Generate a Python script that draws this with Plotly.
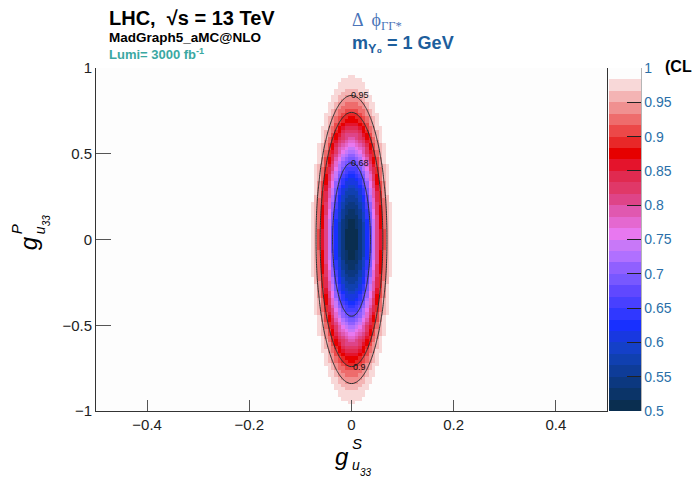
import math
import numpy as np
import plotly.graph_objects as go
from statistics import NormalDist

# ---- scan grid (bin counts and ranges) ----
gS_range = [-0.5, 0.5]
gP_range = [-1.0, 1.0]
n_bins_gS = 150
n_bins_gP = 100

# ---- confidence-level model: CL = Phi(q), q = (gS/aS)^2 + (gP/aP)^2 ----
ellipse_aS = 0.054      # width scale along g^S
ellipse_aP = 0.655      # width scale along g^P
contour_levels = [0.68, 0.9, 0.95]
contour_label_text = ["0.68", "0.9", "0.95"]
contour_label_side = [1, -1, 1]   # label at top (+1) or bottom (-1) of the contour

# ---- axis / colour-bar ticks ----
x_ticks = [-0.4, -0.2, 0.0, 0.2, 0.4]
x_ticktext = ["\u22120.4", "\u22120.2", "0", "0.2", "0.4"]
y_ticks = [-1, -0.5, 0, 0.5, 1]
y_ticktext = ["\u22121", "\u22120.5", "0", "0.5", "1"]
cb_ticks = [0.5, 0.55, 0.6, 0.65, 0.7, 0.75, 0.8, 0.85, 0.9, 0.95, 1.0]
cb_ticktext = ["0.5", "0.55", "0.6", "0.65", "0.7", "0.75", "0.8", "0.85", "0.9", "0.95", "1"]

# 30-step palette from CL = 0.5 (bottom) to CL = 1 (top)
palette = [
    "#0a2e50", "#0b3468", "#0c3880", "#0e3c98", "#1040b0", "#1440c8",
    "#1838e0", "#1830ff", "#3038ff", "#4840ff", "#6048ff", "#7858ff",
    "#9060ff", "#b070ff", "#c878f8", "#e878f0", "#e468d0", "#e058b0",
    "#de4488", "#e03868", "#e02a50", "#e4142c", "#e60000", "#e82828",
    "#ec4848", "#ee6c6c", "#f09090", "#f4b4b4", "#f8d8d8", "#fdfdfd",
]

# ---- build the binned CL map ----
dx = (gS_range[1] - gS_range[0]) / n_bins_gS
dy = (gP_range[1] - gP_range[0]) / n_bins_gP
gS = gS_range[0] + dx * (np.arange(n_bins_gS) + 0.5)
gP = gP_range[0] + dy * (np.arange(n_bins_gP) + 0.5)
GS, GP = np.meshgrid(gS, gP)
q = (GS / ellipse_aS) ** 2 + (GP / ellipse_aP) ** 2
erf_v = np.vectorize(math.erf)
CL = 0.5 * (1.0 + erf_v(q / math.sqrt(2.0)))

# discrete colour scale
n = len(palette)
colorscale = []
for i, c in enumerate(palette):
    colorscale.append([i / n, c])
    colorscale.append([(i + 1) / n, c])

# ---- pixel geometry of the frame ----
W, H = 698, 478
L, R, T, B = 96, 89, 68, 67
PW, PH = W - L - R, H - T - B


def px(xpix):
    return (xpix - L) / PW


def py(ypix):
    return (H - B - ypix) / PH


fig = go.Figure()

fig.add_trace(go.Heatmap(
    x=gS, y=gP, z=CL, zmin=0.5, zmax=1.0,
    colorscale=colorscale, zsmooth=False, hoverinfo="skip",
    colorbar=dict(
        x=px(611), xanchor="left", xref="paper", xpad=0, ypad=0,
        y=0.5, yanchor="middle", len=1, lenmode="fraction",
        thickness=32, thicknessmode="pixels",
        tickmode="array", tickvals=cb_ticks, ticktext=cb_ticktext,
        ticks="inside", ticklen=14, tickcolor="#222222", tickwidth=1,
        tickfont=dict(family="Liberation Sans, Arial", size=14, color="#2a6fa8"),
        outlinewidth=0,
    ),
))

for lvl in contour_levels:
    fig.add_trace(go.Contour(
        x=gS, y=gP, z=CL, showscale=False, hoverinfo="skip",
        contours=dict(start=lvl, end=lvl, size=0.01, coloring="none", showlabels=False),
        line=dict(color="#2a3030", width=1, smoothing=0.6),
    ))

annotations = []

# contour labels on each curve
for lvl, txt, side in zip(contour_levels, contour_label_text, contour_label_side):
    r = math.sqrt(NormalDist().inv_cdf(lvl))
    annotations.append(dict(
        x=0.016, y=side * ellipse_aP * r, xref="x", yref="y", text=txt,
        showarrow=False, xanchor="center", yanchor="middle",
        font=dict(family="Liberation Sans, Arial", size=9, color="#111111"),
    ))

# header texts
annotations += [
    dict(x=px(107), y=py(18), text="<b>LHC,  \u221as = 13 TeV</b>",
         font=dict(family="Liberation Sans, Arial", size=20, color="#000000")),
    dict(x=px(107), y=py(37), text="<b>MadGraph5_aMC@NLO</b>",
         font=dict(family="Liberation Sans, Arial", size=13.5, color="#000000")),
    dict(x=px(107), y=py(54), text="<b>Lumi= 3000 fb<sup>-1</sup></b>",
         font=dict(family="Liberation Sans, Arial", size=13, color="#3aa8a2")),
    dict(x=px(351), y=py(21), text="\u0394  \u03d5<sub>\u0393\u0393*</sub>",
         font=dict(family="Liberation Serif, DejaVu Serif", size=18, color="#4a74b8")),
    dict(x=px(351), y=py(44), text="<b>m<sub>\u03a5\u2080</sub> = 1 GeV</b>",
         font=dict(family="Liberation Sans, Arial", size=18, color="#1d5e9c")),
    dict(x=px(665), y=py(67), text="<b>(CL</b>",
         font=dict(family="Liberation Sans, Arial", size=16, color="#000000")),
]
for a in annotations[len(contour_levels):]:
    a.update(xref="paper", yref="paper", xanchor="left", yanchor="middle", showarrow=False)

# axis titles built from stacked pieces
title_font = "Liberation Sans, Arial"
axis_title_parts = [
    # x title
    dict(x=px(343), y=py(456), text="<i>g</i>", size=24, angle=0),
    dict(x=px(358), y=py(444), text="<i>S</i>", size=15, angle=0),
    dict(x=px(357), y=py(465), text="<i>u</i>", size=14, angle=0),
    dict(x=px(367), y=py(472), text="<i>33</i>", size=10, angle=0),
    # y title
    dict(x=px(28), y=py(243), text="<i>g</i>", size=24, angle=-90),
    dict(x=px(16), y=py(229), text="<i>P</i>", size=15, angle=-90),
    dict(x=px(40), y=py(230), text="<i>u</i>", size=14, angle=-90),
    dict(x=px(46), y=py(220), text="<i>33</i>", size=10, angle=-90),
]
for p in axis_title_parts:
    annotations.append(dict(
        x=p["x"], y=p["y"], xref="paper", yref="paper", text=p["text"],
        textangle=p["angle"], showarrow=False, xanchor="center", yanchor="middle",
        font=dict(family=title_font, size=p["size"], color="#000000"),
    ))

fig.update_layout(
    width=W, height=H,
    margin=dict(l=L, r=R, t=T, b=B, pad=0),
    paper_bgcolor="#ffffff", plot_bgcolor="#ffffff",
    showlegend=False,
    annotations=annotations,
    shapes=[dict(type="line", xref="paper", yref="paper",
                 x0=px(643), x1=px(643), y0=0, y1=1,
                 line=dict(color="#333333", width=1))],
    xaxis=dict(
        range=gS_range, tickmode="array", tickvals=x_ticks, ticktext=x_ticktext,
        ticks="inside", ticklen=11, tickcolor="#555555", tickwidth=1,
        showline=True, linecolor="#333333", linewidth=1, mirror=False,
        showgrid=False, zeroline=False,
        tickfont=dict(family="Liberation Sans, Arial", size=15, color="#222222"),
    ),
    yaxis=dict(
        range=gP_range, tickmode="array", tickvals=y_ticks, ticktext=y_ticktext,
        ticks="inside", ticklen=15, tickcolor="#555555", tickwidth=1,
        showline=True, linecolor="#333333", linewidth=1, mirror=True,
        showgrid=False, zeroline=False,
        tickfont=dict(family="Liberation Sans, Arial", size=15, color="#222222"),
    ),
)

fig.write_html("out.html")
